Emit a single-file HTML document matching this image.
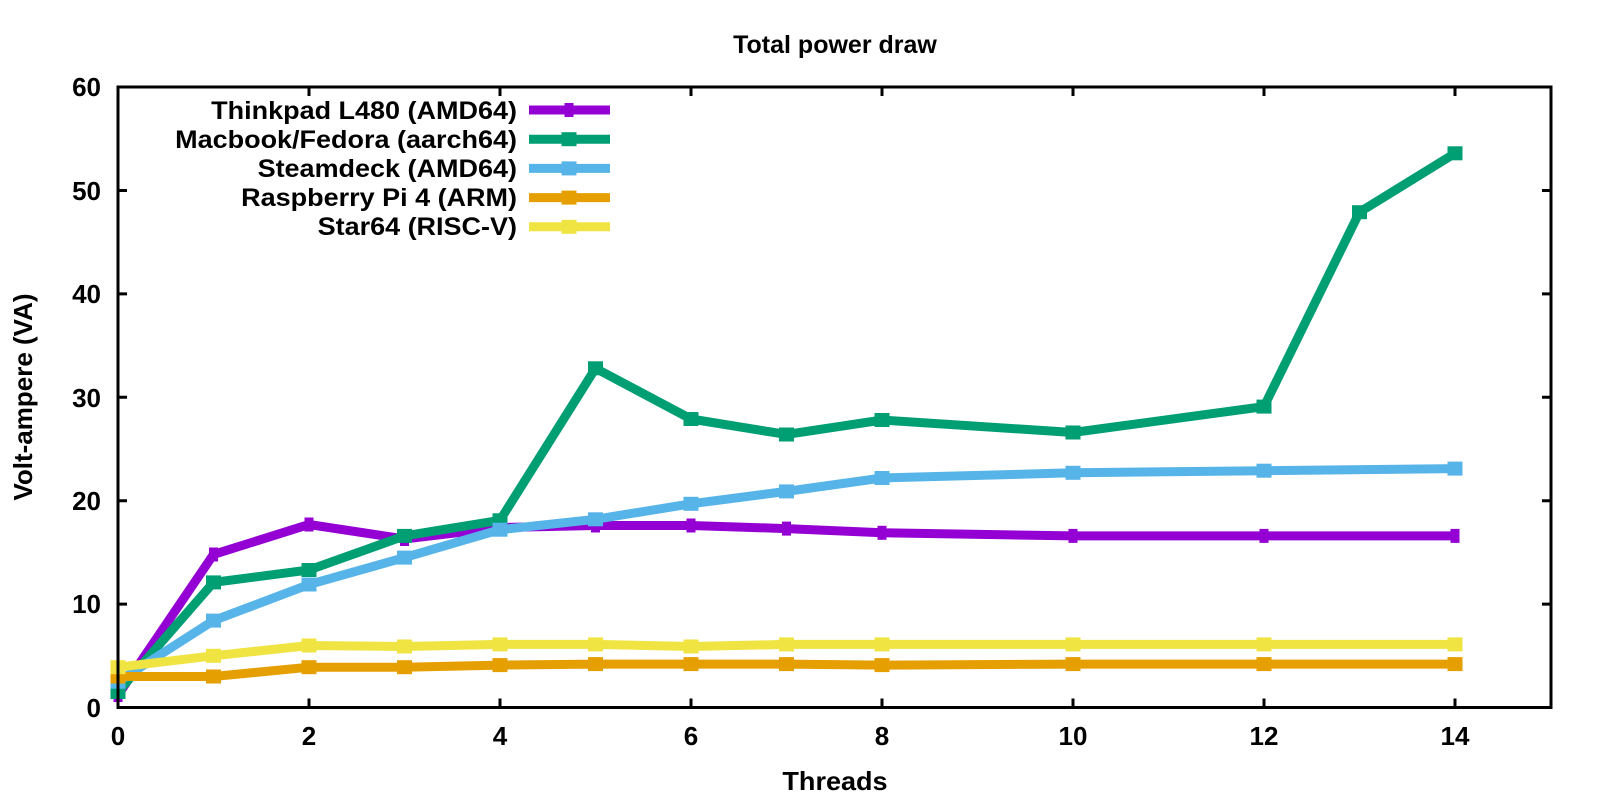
<!DOCTYPE html>
<html><head><meta charset="utf-8"><style>body{margin:0;background:#fff}svg{display:block}text{font-family:"Liberation Sans",sans-serif;font-weight:bold;fill:#000}</style></head><body>
<svg width="1600" height="800" viewBox="0 0 1600 800" xmlns="http://www.w3.org/2000/svg">
<defs>
<marker id="mp" markerUnits="userSpaceOnUse" markerWidth="20" markerHeight="20" refX="10" refY="10" orient="0"><rect x="5.5" y="3" width="9" height="14" fill="#9400d3"/></marker>
<marker id="mg" markerUnits="userSpaceOnUse" markerWidth="20" markerHeight="20" refX="10" refY="10" orient="0"><rect x="2.5" y="3" width="15" height="14" fill="#009e73"/></marker>
<marker id="mb" markerUnits="userSpaceOnUse" markerWidth="20" markerHeight="20" refX="10" refY="10" orient="0"><rect x="2.5" y="3" width="15" height="14" fill="#56b4e9"/></marker>
<marker id="mo" markerUnits="userSpaceOnUse" markerWidth="20" markerHeight="20" refX="10" refY="10" orient="0"><rect x="2.5" y="3" width="15" height="14" fill="#e69f00"/></marker>
<marker id="my" markerUnits="userSpaceOnUse" markerWidth="20" markerHeight="20" refX="10" refY="10" orient="0"><rect x="2.5" y="3" width="15" height="14" fill="#f0e442"/></marker>
</defs>
<text x="835" y="53" font-size="25" text-anchor="middle">Total power draw</text>
<text x="835" y="790" font-size="26" text-anchor="middle" transform="translate(835,0) scale(1.04,1) translate(-835,0)">Threads</text>
<text transform="translate(32,397) rotate(-90)" font-size="26" text-anchor="middle">Volt-ampere (VA)</text>
<g font-size="26" text-anchor="end">
<text x="101" y="717">0</text><text x="101" y="613">10</text><text x="101" y="510">20</text><text x="101" y="407">30</text><text x="101" y="303">40</text><text x="101" y="200">50</text><text x="101" y="96">60</text>
</g>
<g font-size="26" text-anchor="middle">
<text x="118" y="745">0</text><text x="309" y="745">2</text><text x="500" y="745">4</text><text x="691" y="745">6</text><text x="882" y="745">8</text><text x="1073" y="745">10</text><text x="1264" y="745">12</text><text x="1455" y="745">14</text>
</g>
<g stroke="#000" stroke-width="3">
<path d="M118 604.1h9M118 500.7h9M118 397.3h9M118 293.9h9M118 190.5h9M1551 604.1h-9M1551 500.7h-9M1551 397.3h-9M1551 293.9h-9M1551 190.5h-9"/>
<path d="M309 707.5v-9M500 707.5v-9M691 707.5v-9M882 707.5v-9M1073 707.5v-9M1264 707.5v-9M1455 707.5v-9M309 87v9M500 87v9M691 87v9M882 87v9M1073 87v9M1264 87v9M1455 87v9"/>
</g>
<g fill="none" stroke-width="9">
<polyline stroke="#9400d3" marker-start="url(#mp)" marker-mid="url(#mp)" marker-end="url(#mp)" points="118,695.1 213.5,554.5 309,524.5 404.5,539 500,527.6 595.5,525.5 691,525.5 786.5,528.6 882,532.8 1073,535.9 1264,535.9 1455,535.9"/>
<polyline stroke="#009e73" marker-start="url(#mg)" marker-mid="url(#mg)" marker-end="url(#mg)" points="118,692 213.5,582.4 309,570 404.5,535.9 500,520.3 595.5,368.3 691,419 786.5,434.5 882,420 1073,432.5 1264,406.6 1359.5,212.2 1455,153.3"/>
<polyline stroke="#56b4e9" marker-start="url(#mb)" marker-mid="url(#mb)" marker-end="url(#mb)" points="118,681.7 213.5,620.6 309,584.5 404.5,557.6 500,529.7 595.5,519.3 691,503.8 786.5,491.4 882,478 1073,472.8 1264,470.7 1455,468.6"/>
<polyline stroke="#e69f00" marker-start="url(#mo)" marker-mid="url(#mo)" marker-end="url(#mo)" points="118,676.5 213.5,676.5 309,667.2 404.5,667.2 500,665.1 595.5,664.1 691,664.1 786.5,664.1 882,665.1 1073,664.1 1264,664.1 1455,664.1"/>
<polyline stroke="#f0e442" marker-start="url(#my)" marker-mid="url(#my)" marker-end="url(#my)" points="118,667.2 213.5,655.8 309,645.5 404.5,646.5 500,644.4 595.5,644.4 691,646.5 786.5,644.4 882,644.4 1073,644.4 1264,644.4 1455,644.4"/>
<polyline stroke="#9400d3" marker-mid="url(#mp)" points="529,110 569,110 610,110"/>
<polyline stroke="#009e73" marker-mid="url(#mg)" points="529,139.2 569,139.2 610,139.2"/>
<polyline stroke="#56b4e9" marker-mid="url(#mb)" points="529,168.4 569,168.4 610,168.4"/>
<polyline stroke="#e69f00" marker-mid="url(#mo)" points="529,197.6 569,197.6 610,197.6"/>
<polyline stroke="#f0e442" marker-mid="url(#my)" points="529,226.8 569,226.8 610,226.8"/>
</g>
<g font-size="25" text-anchor="end" transform="translate(517,0) scale(1.08,1) translate(-517,0)">
<text x="517" y="119">Thinkpad L480 (AMD64)</text>
<text x="517" y="148">Macbook/Fedora (aarch64)</text>
<text x="517" y="177">Steamdeck (AMD64)</text>
<text x="517" y="206">Raspberry Pi 4 (ARM)</text>
<text x="517" y="235">Star64 (RISC-V)</text>
</g>
<rect x="118" y="87" width="1433" height="620.5" fill="none" stroke="#000" stroke-width="3"/>
</svg>
</body></html>
